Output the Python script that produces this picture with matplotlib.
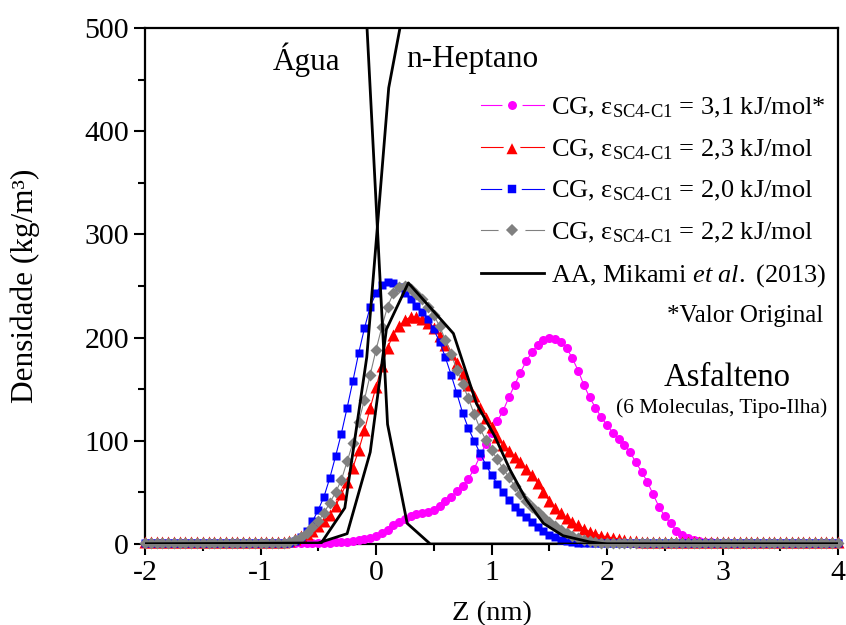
import numpy as np
import matplotlib
matplotlib.use("Agg")
import matplotlib.pyplot as plt
from matplotlib.ticker import MultipleLocator
from matplotlib.legend_handler import HandlerLine2D

plt.rcParams['font.family'] = ['Liberation Serif', 'DejaVu Serif']
plt.rcParams['mathtext.fontset'] = 'custom'
plt.rcParams['mathtext.rm'] = 'Liberation Serif'
plt.rcParams['mathtext.it'] = 'Liberation Serif:italic'
plt.rcParams['axes.unicode_minus'] = False

# Perfis de densidade CG (passo de 0,05 nm, de -2 a 4 nm)
z_cg = np.round(np.arange(-2.0, 4.0001, 0.05), 2)

dens_31 = [0.5] * 31 + [
    1, 1, 1.5, 2, 2, 3, 4, 5, 6,
    8, 11, 14, 18, 21, 24, 27, 29, 30, 31,
    33, 37, 42, 46, 51, 56, 63, 73, 85, 97,
    108, 119, 129, 142, 154, 166, 177, 186, 193, 198,
    200, 199, 196, 190, 180, 168, 154, 142, 132, 123,
    115, 108, 102, 96, 89, 79, 70, 60, 48, 36,
    27, 20, 13, 9, 6, 4, 3, 2, 1.5, 1,
] + [0.5] * 21

dens_23 = [2] * 25 + [
    3, 5, 8, 10, 13, 17, 22, 28, 37, 48, 60, 74, 91, 110, 132,
    152, 172, 190, 203, 211, 217, 220, 220, 218, 214,
    209, 202, 193, 184, 175, 165, 154, 143, 132, 122,
    113, 104, 96, 90, 84, 79, 73, 67, 59, 50,
    42, 35, 30, 25, 21, 18, 15, 12, 10, 8,
    7, 6, 5, 4, 3, 3,
] + [2] * 35

dens_20 = [0.5] * 26 + [
    3, 7, 13, 22, 33, 46, 64, 85, 107, 132, 158, 185, 209, 230,
    243, 251, 254, 253, 249, 243, 237, 231, 225, 218,
    208, 196, 181, 164, 146, 127, 112, 100, 88, 77,
    67, 58, 50, 43, 36, 31, 26, 21, 16, 13,
    9, 7, 4, 3, 2, 1,
] + [0.5] * 45

dens_22 = [0.5] * 25 + [
    2, 4, 7, 11, 16, 22, 30, 40, 50, 62, 80, 98, 118, 140, 164,
    188, 210, 230, 243, 249, 250, 247, 242, 237, 230,
    222, 211, 198, 184, 169, 155, 141, 126, 112, 101,
    91, 82, 73, 65, 56, 48, 42, 36, 31, 26,
    21, 17, 14, 11, 8, 6, 4, 3, 2, 1,
] + [0.5] * 41

# Perfis atomísticos (Mikami et al., 2013)
z_agua = [-2.0, -0.27, -0.08, 0.10, 0.27, 0.47, 4.0]
dens_agua = [1000, 1000, 505, 116, 20, 0, 0]
z_hept = [-2.0, -0.48, -0.27, -0.08, 0.11, 0.30, 0.49, 0.68, 4.0]
dens_hept = [0, 0, 35, 181, 442, 555, 650, 680, 680]
z_asf = [-2.0, -0.5, -0.25, -0.05, 0.09, 0.28, 0.67, 0.87, 1.03,
         1.16, 1.30, 1.45, 1.62, 1.85, 2.0, 4.0]
dens_asf = [0, 1, 10, 89, 208, 253, 204, 136, 104,
            72, 43, 20, 8, 2, 0, 0]

rotulo = 'CG, ε$_{\\mathrm{SC4\\text{-}C1}}$ = %s kJ/mol'

fig = plt.figure(figsize=(8.46, 6.25), dpi=100)
ax = fig.add_axes([145 / 846, 81 / 625, 693 / 846, 516 / 625])

l31, = ax.plot(z_cg, dens_31, color='#FF00FF', lw=0.8, marker='o', ms=6.5,
               mec='none', label=rotulo % '3,1' + '*', clip_on=False, zorder=3)
l23, = ax.plot(z_cg, dens_23, color='#FF0000', lw=0.8, marker='^', ms=8,
               mec='none', label=rotulo % '2,3', clip_on=False, zorder=3)
l20, = ax.plot(z_cg, dens_20, color='#0000FF', lw=0.8, marker='s', ms=6,
               mec='none', label=rotulo % '2,0', clip_on=False, zorder=3)
l22, = ax.plot(z_cg, dens_22, color='#808080', lw=0.8, marker='D', ms=6,
               mec='none', label=rotulo % '2,2', clip_on=False, zorder=3)

ax.plot(z_agua, dens_agua, color='black', lw=2, zorder=4)
ax.plot(z_hept, dens_hept, color='black', lw=2, zorder=4)
ax.plot(z_asf, dens_asf, color='black', lw=2, zorder=4,
        label='AA, Mikami $\\mathit{et\\ al.}$ (2013)')

ax.set_xlim(-2, 4)
ax.set_ylim(0, 500)
ax.xaxis.set_major_locator(MultipleLocator(1))
ax.xaxis.set_minor_locator(MultipleLocator(0.5))
ax.yaxis.set_major_locator(MultipleLocator(100))
ax.yaxis.set_minor_locator(MultipleLocator(50))
ax.tick_params(which='both', direction='out', width=1.5, labelsize=21.5,
               top=False, right=False)
ax.tick_params(which='major', length=8)
ax.tick_params(which='minor', length=5)
for s in ax.spines.values():
    s.set_linewidth(1.6)

ax.set_xlabel('Z (nm)', fontsize=20.5, labelpad=11)
ax.set_ylabel('Densidade (kg/m³)', fontsize=22.5, labelpad=32)

ax.text(-0.6, 469, 'Água', fontsize=22.5, ha='center', va='center')
ax.text(0.83, 469, 'n-Heptano', fontsize=22.5, ha='center', va='center')
ax.text(3.04, 161, 'Asfalteno', fontsize=23.5, ha='center', va='center')
ax.text(2.99, 132, '(6 Moleculas, Tipo-Ilha)', fontsize=15.5, ha='center', va='center')


# marcador da legenda com um vão branco entre a linha e o símbolo
def _vao(handle, orig):
    handle.update_from(orig)
    handle.set_markeredgecolor('white')
    handle.set_markeredgewidth(4)
    extra = 7 if orig.get_marker() == '^' else 4
    handle.set_markersize(orig.get_markersize() + extra)


vao = HandlerLine2D(update_func=_vao)
leg = ax.legend(loc='upper right', bbox_to_anchor=(826 / 846, 1 - 96 / 625),
                bbox_transform=fig.transFigure, frameon=False, fontsize=19,
                handlelength=2.4, handletextpad=0.25, labelspacing=0.66,
                borderpad=0, borderaxespad=0,
                handler_map={l31: vao, l23: vao, l20: vao, l22: vao})
ax.text(3.87, 221, '*Valor Original', fontsize=18, ha='right', va='center')

fig.savefig('out.png', dpi=100)
